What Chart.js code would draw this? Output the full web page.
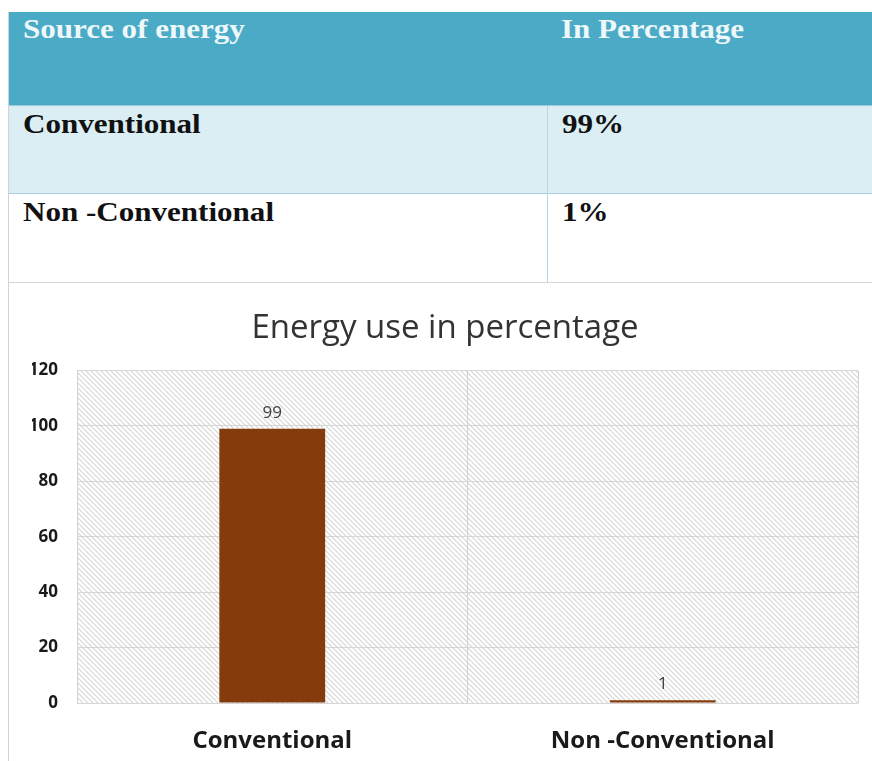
<!DOCTYPE html>
<html>
<head>
<meta charset="utf-8">
<title>Energy use in percentage</title>
<script src="https://cdn.jsdelivr.net/npm/chart.js@4.4.0/dist/chart.umd.min.js"></script>
<style>
    body { margin: 0; background: #fff; width: 872px; height: 761px; overflow: hidden; position: relative; }
    .left-line { position: absolute; left: 8px; top: 12px; width: 1px; height: 749px; background: #d2d2d2; }
    table { position: absolute; left: 9px; top: 12px; width: 863px; table-layout: fixed; border-collapse: collapse; font-family: "Liberation Serif", serif; font-weight: bold; font-size: 27px; line-height: 27px; }
    td { vertical-align: top; padding: 0 0 0 14px; overflow: visible; }
    td span { display: inline-block; transform: scaleX(1.15); transform-origin: left center; white-space: nowrap; }
    .head td { height: 93px; background: #4babc6; color: #eef7fa; padding-top: 4px; box-sizing: border-box; }
    .r1 td { height: 88px; background: #daeef3; color: #111; padding-top: 5px; box-sizing: border-box; border-top: 1px solid #9ccbd8; }
    .r2 td { height: 89px; background: #fff; color: #111; padding-top: 5px; box-sizing: border-box; border-top: 1px solid #a9d0dc; border-bottom: 1px solid #d6d6d6; }
    .r1 td.c2, .r2 td.c2 { border-left: 1px solid #b7d7e0; }
    #wrap { position: absolute; left: 9px; top: 284px; width: 863px; height: 477px; }
</style>
</head>
<body>
<div class="left-line"></div>
<table>
    <colgroup><col style="width:538px"><col style="width:325px"></colgroup>
    <tr class="head"><td><span>Source of energy</span></td><td class="c2"><span>In Percentage</span></td></tr>
    <tr class="r1"><td><span>Conventional</span></td><td class="c2"><span>99%</span></td></tr>
    <tr class="r2"><td><span>Non -Conventional</span></td><td class="c2"><span>1%</span></td></tr>
</table>
<div id="wrap"><canvas id="energy" width="863" height="477"></canvas></div>
<script>
// data
var categories = ['Conventional', 'Non -Conventional'];
var energyUse = [99, 1];
var yTicks = [0, 20, 40, 60, 80, 100, 120];

// diagonal hatch behind the plot area
function makeHatch() {
    var c = document.createElement('canvas');
    c.width = 5; c.height = 5;
    var g = c.getContext('2d');
    g.fillStyle = '#ffffff';
    g.fillRect(0, 0, 5, 5);
    g.strokeStyle = '#d6d6d6';
    g.lineWidth = 1.2;
    g.beginPath();
    g.moveTo(-1, -1); g.lineTo(6, 6);
    g.moveTo(-1, 4); g.lineTo(1, 6);
    g.moveTo(4, -1); g.lineTo(6, 1);
    g.stroke();
    return g.createPattern(c, 'repeat');
}

var hatchBg = {
    id: 'hatchBg',
    beforeDraw: function (chart) {
        var a = chart.chartArea;
        var ctx = chart.ctx;
        ctx.save();
        ctx.fillStyle = makeHatch();
        ctx.fillRect(a.left, a.top, a.right - a.left, a.bottom - a.top);
        ctx.restore();
    }
};

// value labels above the bars
var barLabels = {
    id: 'barLabels',
    afterDatasetsDraw: function (chart) {
        var ctx = chart.ctx;
        var meta = chart.getDatasetMeta(0);
        ctx.save();
        ctx.font = '17px "Open Sans"';
        ctx.fillStyle = '#404040';
        ctx.textAlign = 'center';
        ctx.textBaseline = 'middle';
        meta.data.forEach(function (bar, i) {
            ctx.fillText(String(energyUse[i]), bar.x, bar.y - 16);
        });
        ctx.restore();
    }
};

var ctx = document.getElementById('energy').getContext('2d');
var energyChart = new Chart(ctx, {
    type: 'bar',
    data: {
        labels: categories,
        datasets: [{
            data: energyUse,
            backgroundColor: '#843c0c',
            barPercentage: 0.271,
            categoryPercentage: 1
        }]
    },
    options: {
        responsive: false,
        animation: false,
        devicePixelRatio: 1,
        // extra left padding shifts the title centre; y axis width makes up for it
        layout: { padding: { left: 23, right: 14, top: 0, bottom: 0 } },
        plugins: {
            legend: { display: false },
            tooltip: { enabled: false },
            title: {
                display: true,
                text: 'Energy use in percentage',
                color: '#333333',
                font: { family: 'Open Sans', size: 33, weight: 'normal' },
                padding: { top: 25, bottom: 22 }
            }
        },
        scales: {
            x: {
                grid: { offset: true, color: '#d2d2d2', drawTicks: false },
                border: { display: false },
                ticks: { color: '#1a1a1a', padding: 24, font: { family: 'Open Sans', size: 24, weight: 'bold' } },
                afterFit: function (s) { s.height = 58; }
            },
            y: {
                min: 0,
                max: 120,
                afterBuildTicks: function (s) { s.ticks = yTicks.map(function (v) { return { value: v }; }); },
                grid: { color: '#d6d6d6', drawTicks: false },
                border: { display: false },
                ticks: { color: '#1a1a1a', padding: 19, font: { family: 'Open Sans', size: 17, weight: 'bold' } },
                afterFit: function (s) { s.width = 45; }
            }
        }
    },
    plugins: [hatchBg, barLabels]
});
</script>
</body>
</html>
